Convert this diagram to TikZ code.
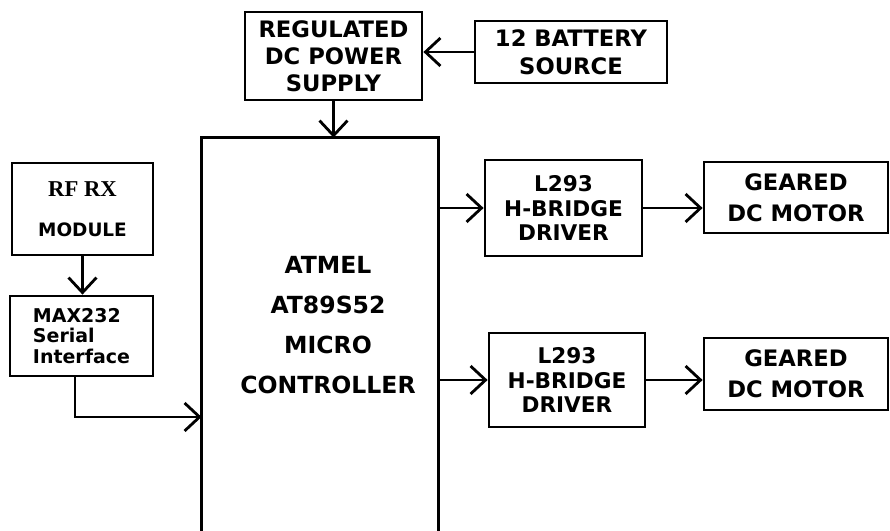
\documentclass[tikz,border=0pt]{standalone}
\usepackage{fontspec}
\setmainfont{DejaVu Sans}
\newfontfamily\rfserif{Liberation Serif}
\usetikzlibrary{arrows.meta}
\begin{document}
\begin{tikzpicture}[x=0.02cm,y=-0.02cm,line width=1.6pt,
  blk/.style={draw,inner sep=0pt,align=center,font=\bfseries},
  arr/.style={-{Straight Barb[length=0.3cm,width=0.56cm]}}]
  \useasboundingbox (0,0) rectangle (890,531);
  % power
  \node[blk,minimum width=3.54cm,minimum height=1.76cm,font=\bfseries\fontsize{12.9}{15.3}\selectfont] (reg) at (333.5,56) {REGULATED\\DC POWER\\SUPPLY};
  \node[blk,minimum width=3.84cm,minimum height=1.24cm,font=\bfseries\fontsize{12.9}{15.9}\selectfont] (bat) at (571,52) {12 BATTERY\\SOURCE};
  % controller (open at the bottom)
  \node[inner sep=0pt,minimum width=4.68cm,minimum height=7.84cm] (mcu) at (320,335) {};
  \draw (mcu.south west) -- (mcu.north west) -- (mcu.north east) -- (mcu.south east);
  \node[align=center,font=\bfseries\fontsize{13.4}{22.7}\selectfont] (mcutxt) at (328,325) {ATMEL\\AT89S52\\MICRO\\CONTROLLER};
  % receiver side
  \node[blk,minimum width=2.82cm,minimum height=1.84cm,font=\bfseries\fontsize{10.5}{23}\selectfont] (rf) at (82.5,209) {{\rfserif\fontsize{12.9}{23}\selectfont RF RX}\\MODULE};
  \node[blk,minimum width=2.86cm,minimum height=1.6cm,align=left,font=\bfseries\fontsize{10.8}{11.9}\selectfont] (max) at (81.5,336) {MAX232\\Serial\\Interface};
  % drivers and motors
  \node[blk,minimum width=3.14cm,minimum height=1.92cm,font=\bfseries\fontsize{12.3}{14.2}\selectfont] (drvA) at (563.5,208) {L293\\H-BRIDGE\\DRIVER};
  \node[blk,minimum width=3.68cm,minimum height=1.42cm,font=\bfseries\fontsize{12.9}{17.6}\selectfont] (motA) at (796,197.5) {GEARED\\DC MOTOR};
  \node[blk,minimum width=3.12cm,minimum height=1.88cm,font=\bfseries\fontsize{12.3}{14.2}\selectfont] (drvB) at (567,380) {L293\\H-BRIDGE\\DRIVER};
  \node[blk,minimum width=3.68cm,minimum height=1.44cm,font=\bfseries\fontsize{12.9}{17.6}\selectfont] (motB) at (796,374) {GEARED\\DC MOTOR};
  % connections
  \draw[arr] (bat.west) -- (bat.west -| reg.east);
  \draw[arr] (reg.south) -- (reg.south |- mcu.north);
  \draw[arr] (rf.south) -- (rf.south |- max.north);
  \draw[arr] ([xshift=-0.13cm]max.south) |- ([yshift=-1.64cm]mcu.west);
  \draw[arr] (mcu.east |- drvA.west) -- (drvA.west);
  \draw[arr] (drvA.east) -- (drvA.east -| motA.west);
  \draw[arr] (mcu.east |- drvB.west) -- (drvB.west);
  \draw[arr] (drvB.east) -- (drvB.east -| motB.west);
\end{tikzpicture}
\end{document}
